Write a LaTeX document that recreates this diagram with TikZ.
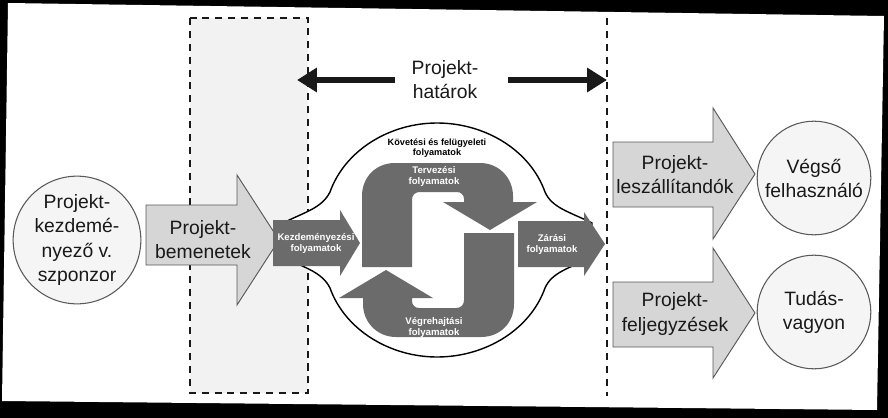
\documentclass[tikz,border=0pt]{standalone}
\usepackage{fontspec}
\setmainfont{Liberation Sans}
\usetikzlibrary{arrows.meta}
\begin{document}
\begin{tikzpicture}[x=0.03cm,y=-0.03cm,
  bigtxt/.style={font=\fontsize{16.5}{20.5}\selectfont, align=center, text=black!90, inner sep=0pt},
  smalltxt/.style={font=\fontsize{8.2}{9.4}\selectfont\bfseries, align=center, text=white, inner sep=0pt},
  toptxt/.style={font=\fontsize{7.8}{9.2}\selectfont\bfseries, align=center, text=black, inner sep=0pt},
  lightarrow/.style={fill=black!16, draw=black!65, line width=0.8pt, line join=miter},
  darkarrow/.style={fill=black!58, draw=none},
  circ/.style={circle, fill=black!4, draw=black!65, line width=0.9pt, inner sep=0pt},
  bnd/.style={line width=1.6pt, dash pattern=on 6pt off 5pt, draw=black!90},
  bndarrow/.style={line width=5pt, draw=black!90, -{Triangle[length=17pt,width=20pt]}},
]
% scan frame
\fill[black] (0,0) rectangle (888,418);
\fill[white] (8,3) -- (884,16) -- (877,410) -- (2,401) -- cycle;

% project input zone
\fill[black!5] (190,18) rectangle (308,393);
\draw[bnd] (190,18) rectangle (308,393);

% Projekt-bemenetek arrow
\draw[lightarrow] (146,205) -- (237,205) -- (237,175) -- (279,240) -- (237,305) -- (237,265) -- (146,265) -- cycle;
\node[bigtxt] (inp) at (203,240) {Projekt-\\bemenetek};

% sponsor circle
\node[circ, minimum size=109pt, bigtxt, draw=black!65, fill=black!4] (sponsor) at (77,240) {Projekt-\\kezdemé-\\nyező v.\\szponzor};

% process blob
\filldraw[fill=white, draw=black, line width=1.2pt]
  (283,223) .. controls (305,212) and (322,208) .. (330,192)
  .. controls (345,150) and (390,123) .. (437,123)
  .. controls (485,123) and (530,150) .. (545,192)
  .. controls (552,208) and (570,212) .. (592,223)
  -- (592,257)
  .. controls (570,268) and (552,272) .. (545,288)
  .. controls (530,330) and (485,357) .. (437,357)
  .. controls (390,357) and (345,330) .. (330,288)
  .. controls (322,272) and (305,268) .. (283,257) -- cycle;
\node[toptxt] (monitor) at (437,148) {Követési és felügyeleti\\folyamatok};

% initiating
\fill[darkarrow] (273,220) -- (340,220) -- (340,210) -- (360,243) -- (340,276) -- (340,266) -- (273,266) -- cycle;
\node[smalltxt] (init) at (316,243) {Kezdeményezési\\folyamatok};

% closing
\fill[darkarrow] (518,221) -- (584,221) -- (584,212) -- (605,244) -- (584,276) -- (584,267) -- (518,267) -- cycle;
\node[smalltxt] (close) at (552,244) {Zárási\\folyamatok};

% planning (top curved arrow) and executing (same shape turned half round)
\foreach \ang in {0,180} {
\fill[darkarrow, rotate around={\ang:(438,250)}]
  (362,267) -- (362,196) .. controls (362,177) and (376,163) .. (395,163)
  -- (480,163) .. controls (499,163) and (513,178) .. (513,196) -- (513,202)
  -- (537,202) -- (490,230) -- (443,202) -- (464,202) -- (464,199)
  .. controls (464,195) and (461,192) .. (457,192) -- (420,192)
  .. controls (415,192) and (412,195) .. (412,200) -- (412,267) -- cycle;
}
\node[smalltxt] (plan) at (434,176) {Tervezési\\folyamatok};
\node[smalltxt] (exec) at (434,327) {Végrehajtási\\folyamatok};

% right boundary
\draw[bnd, line width=1.3pt] (607,18) -- (607,396);

% boundaries label and arrows
\node[bigtxt] (bounds) at (445,80) {Projekt-\\határok};
\coordinate (bl0) at (395,80);
\coordinate (bl1) at (297,80);
\coordinate (br0) at (508,80);
\coordinate (br1) at (607,80);
\draw[bndarrow] (bl0) -- (bl1);
\draw[bndarrow] (br0) -- (br1);

% deliverables
\draw[lightarrow] (613,142) -- (713,142) -- (713,108) -- (755,174) -- (713,239) -- (713,207) -- (613,207) -- cycle;
\node[bigtxt] (deliv) at (675,175) {Projekt-\\leszállítandók};
\draw[lightarrow] (613,282) -- (713,282) -- (713,248) -- (755,313) -- (713,378) -- (713,347) -- (613,347) -- cycle;
\node[bigtxt] (records) at (675,314) {Projekt-\\feljegyzések};

% outcome circles
\node[circ, bigtxt, draw=black!65, fill=black!4, minimum size=97pt] (user) at (814,178) {Végső\\felhasználó};
\node[circ, bigtxt, draw=black!65, fill=black!4, minimum size=97pt] (know) at (814,312) {Tudás-\\vagyon};
\end{tikzpicture}
\end{document}
